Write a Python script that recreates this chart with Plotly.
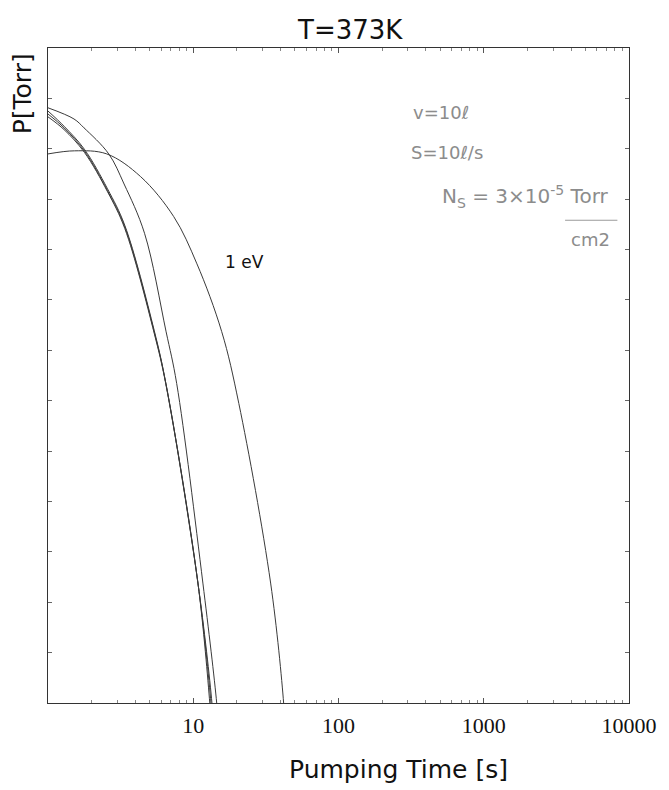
import plotly.graph_objects as go

# ---- data (x = pumping time [s], y = pressure [Torr]) ----
t_top = [1.0, 1.51, 1.77, 2.62, 3.34, 4.62, 6.49, 7.69, 11.65, 14.5, 14.8]
p_top = [0.65, 0.39, 0.26, 0.079, 0.020, 0.0021, 2.4e-5, 2.2e-6, 2.4e-10, 1.0e-12, 4e-13]

t_b1 = [1.0, 1.29, 1.78, 2.57, 3.38, 5.38, 6.48, 10.77, 13.0, 13.3]
p_b1 = [0.56, 0.28, 0.098, 0.016, 0.0030, 2.5e-5, 2.2e-6, 2.4e-10, 1.0e-12, 4e-13]

t_b2 = [1.0, 1.29, 1.78, 2.57, 3.38, 5.38, 6.48, 10.77, 13.24, 13.5]
p_b2 = [0.49, 0.26, 0.091, 0.0147, 0.0028, 2.35e-5, 2.2e-6, 2.4e-10, 1.0e-12, 4e-13]

t_b3 = [1.0, 1.29, 1.78, 2.57, 3.38, 5.38, 6.48, 10.77, 13.45, 13.7]
p_b3 = [0.43, 0.24, 0.085, 0.0140, 0.0026, 2.2e-5, 2.1e-6, 2.4e-10, 1.0e-12, 4e-13]

t_1ev = [1.0, 1.52, 2.54, 4.34, 7.34, 10.6, 15.7, 20.6, 34.1, 41.9, 42.5]
p_1ev = [0.079, 0.091, 0.079, 0.028, 0.0045, 5.2e-4, 2.35e-5, 8.8e-7, 2.4e-10, 1.0e-12, 4e-13]

x_ticks = [10, 100, 1000, 10000]
x_ticklabels = ["10", "100", "1000", "10000"]
x_minor = [m * 10 ** d for d in range(4) for m in range(2, 10)]

curves = [(t_top, p_top), (t_b1, p_b1), (t_b2, p_b2), (t_b3, p_b3), (t_1ev, p_1ev)]

fig = go.Figure()
for tx, py in curves:
    fig.add_trace(go.Scatter(x=tx, y=py, mode="lines",
                             line=dict(color="#3a3a3a", width=1, shape="spline", smoothing=1.0),
                             showlegend=False, hoverinfo="skip"))

hand = dict(family="DejaVu Sans", size=18, color="#8c8c8c")
hand_big = dict(family="DejaVu Sans", size=20, color="#8c8c8c")


def ann(text, x, y, font, **kw):
    return dict(text=text, x=x, y=y, xref="paper", yref="paper", showarrow=False,
                xanchor="center", yanchor="middle", font=font, **kw)


annotations = [
    ann("T=373K", 0.520, 1.027, dict(family="DejaVu Sans", size=26, color="#111")),
    ann("P[Torr]", -0.044, 0.930, dict(family="DejaVu Sans", size=25, color="#111"), textangle=-90),
    ann("Pumping Time [s]", 0.603, -0.102, dict(family="DejaVu Sans", size=25, color="#111")),
    ann("1 eV", 0.339, 0.673, dict(family="DejaVu Sans", size=17, color="#111")),
    ann("v=10ℓ", 0.676, 0.902, hand),
    ann("S=10ℓ/s", 0.686, 0.841, hand),
    ann("N<sub>S</sub> = 3×10<sup>-5</sup> Torr", 0.822, 0.773, hand_big),
    ann("cm2", 0.933, 0.707, hand),
]

fig.update_layout(
    width=669, height=790,
    margin=dict(l=48, r=31, t=48, b=87),
    paper_bgcolor="white", plot_bgcolor="white",
    annotations=annotations,
    shapes=[dict(type="line", xref="paper", yref="paper", x0=0.890, x1=0.980, y0=0.737, y1=0.737,
                 line=dict(color="#9a9a9a", width=1))],
)

fig.update_xaxes(type="log", range=[0, 4], tickvals=x_ticks, ticktext=x_ticklabels,
                 showline=True, linecolor="#333", linewidth=1, mirror="ticks",
                 ticks="inside", ticklen=5, tickcolor="#555",
                 minor=dict(ticks="inside", ticklen=3, tickcolor="#888", tickvals=x_minor),
                 showgrid=False, zeroline=False,
                 tickfont=dict(family="Liberation Serif", size=22, color="#111"), ticklabelstandoff=3)
fig.update_yaxes(type="log", range=[-12, 1], showticklabels=False,
                 showline=True, linecolor="#333", linewidth=1, mirror="ticks",
                 ticks="inside", ticklen=4, tickcolor="#666", dtick=1,
                 showgrid=False, zeroline=False)

fig.write_html("out.html")
